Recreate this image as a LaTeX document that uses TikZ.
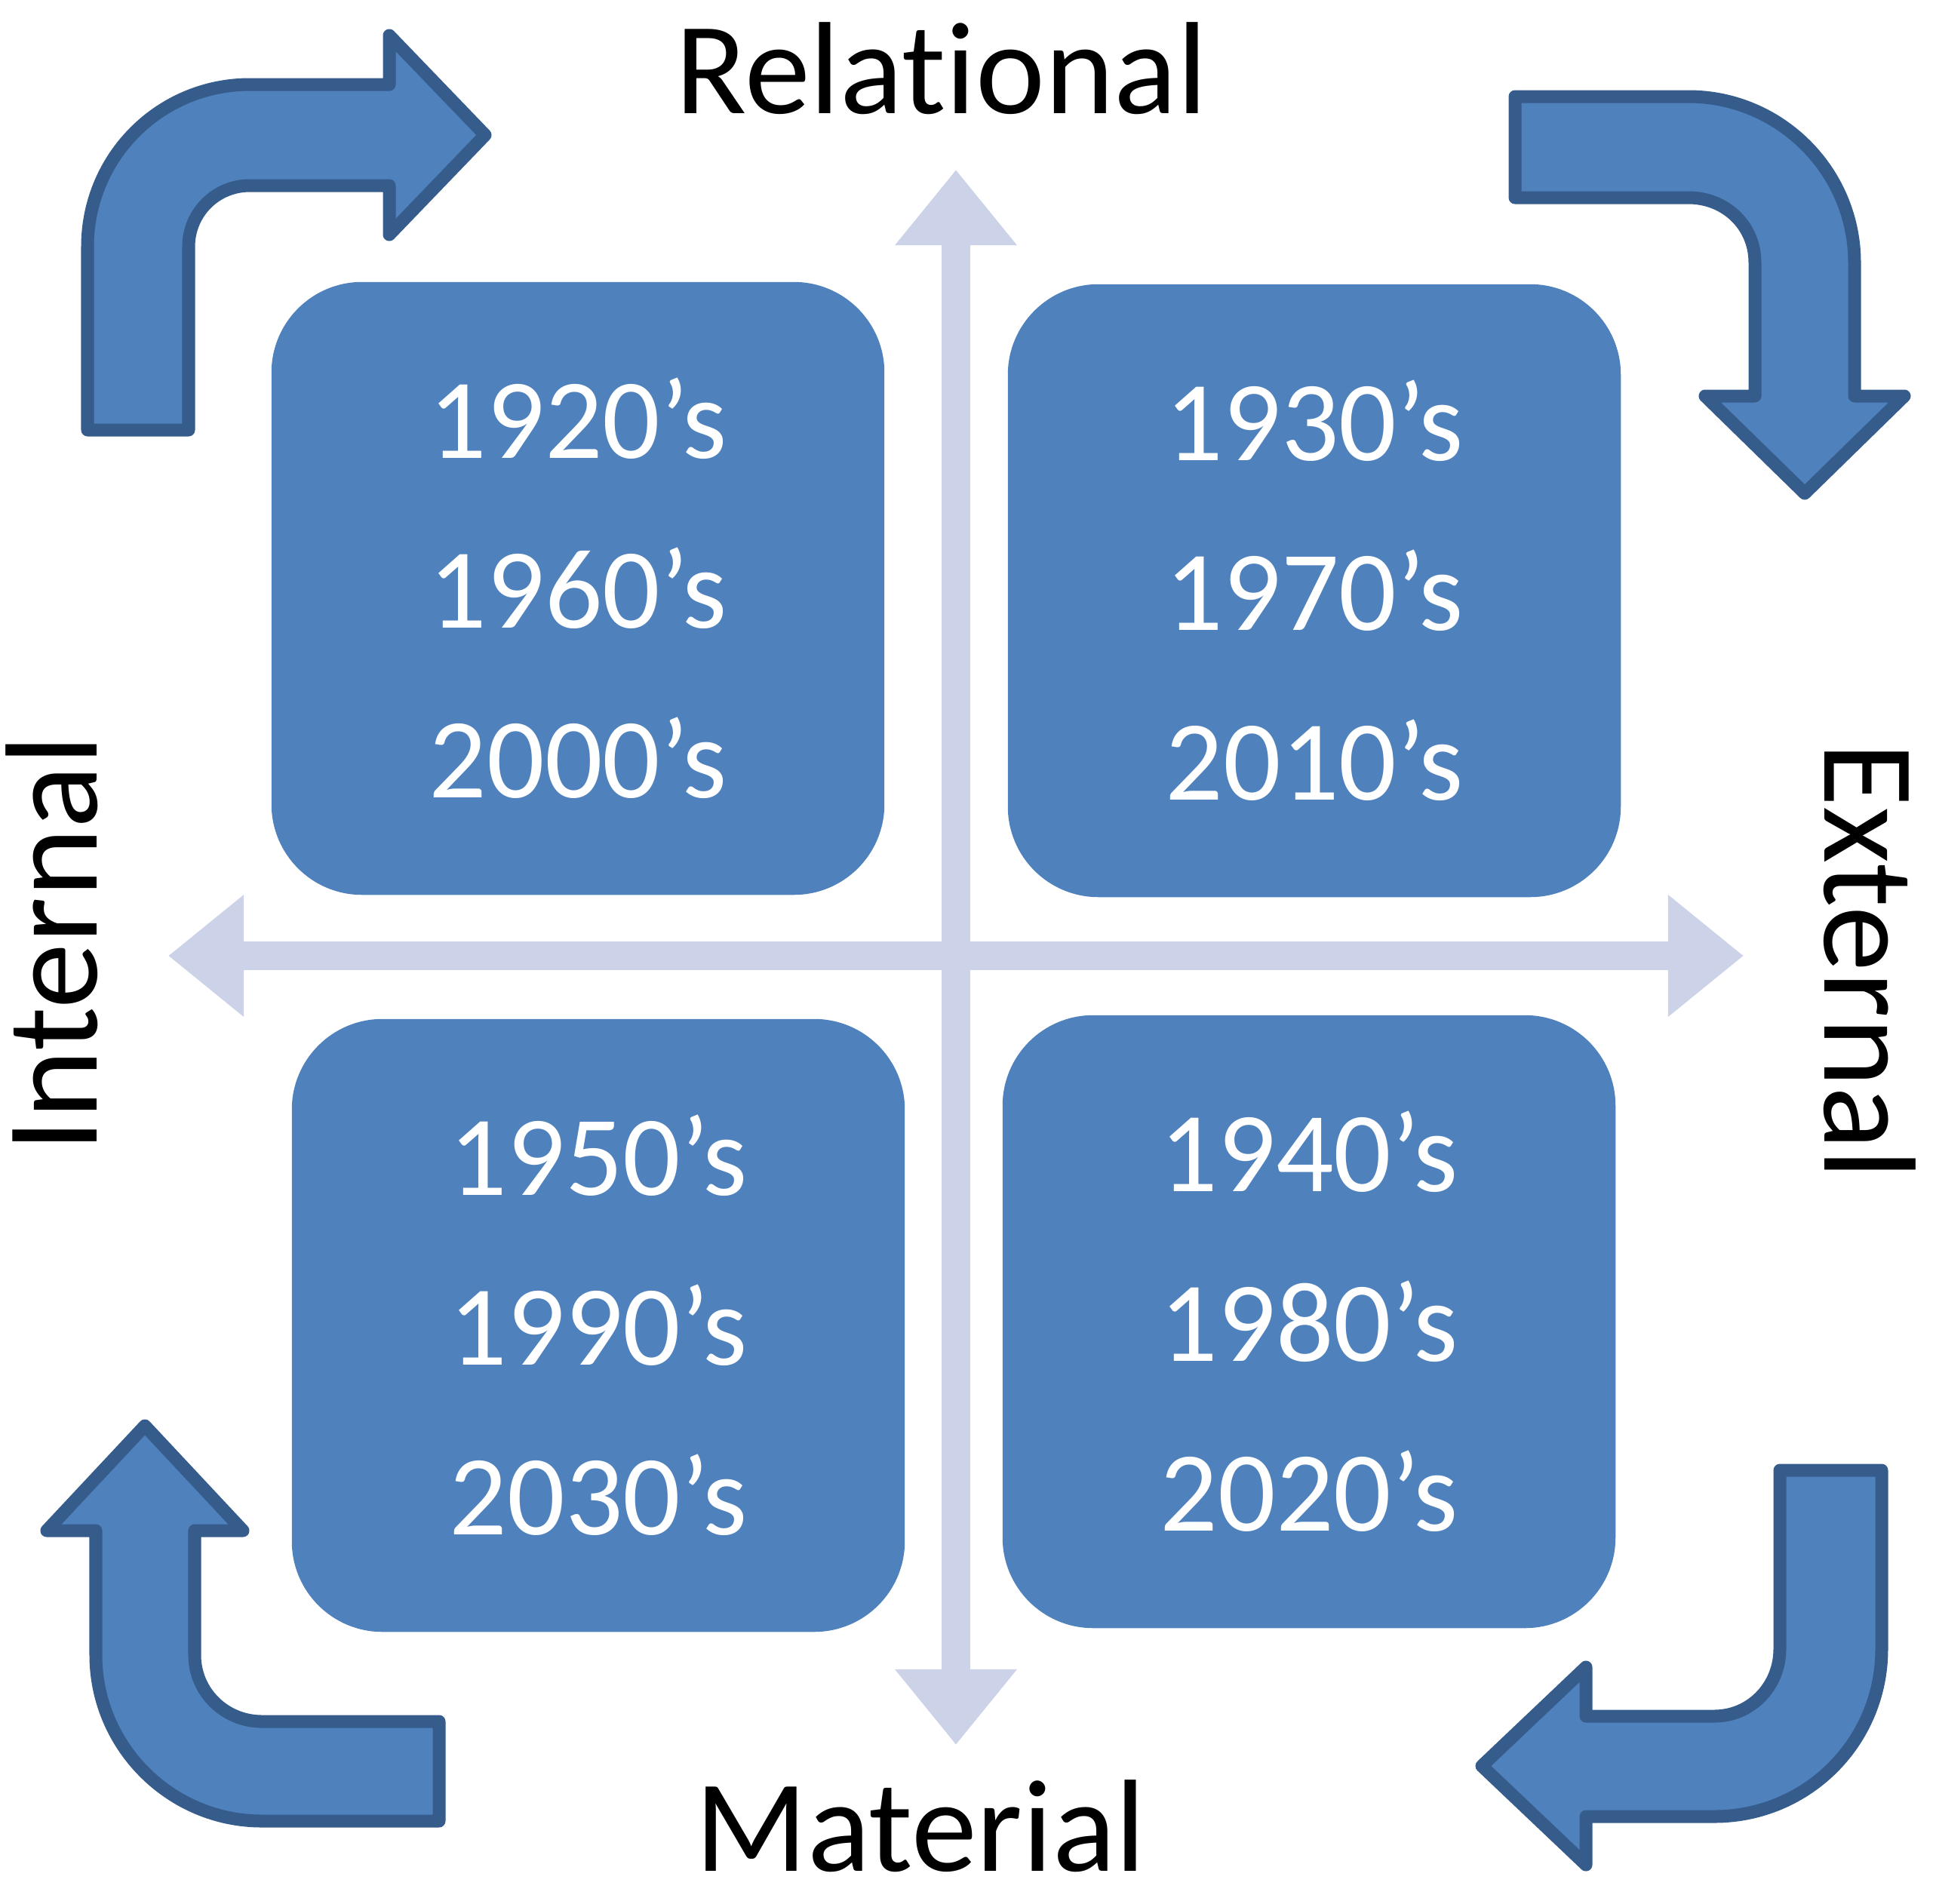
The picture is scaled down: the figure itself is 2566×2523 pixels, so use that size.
\documentclass[tikz,border=0pt]{standalone}
\usepackage{fontspec}
\setmainfont{Carlito}[Ligatures={TeX,NoCommon}]
\usepackage{tikz}
\usetikzlibrary{arrows.meta}
\definecolor{boxblue}{RGB}{79,129,189}
\definecolor{edgeblue}{RGB}{54,92,140}
\definecolor{axisgrey}{RGB}{204,211,232}
\tikzstyle{quadrant} = [rectangle,fill=boxblue,rounded corners=1.2cm,minimum width=8.12cm,
                        minimum height=8.12cm,text=white,align=center,
                        font=\fontsize{43}{64}\selectfont]
\tikzstyle{heading} = [anchor=base,font=\fontsize{49.5}{59}\selectfont]
\tikzstyle{axisline} = [axisgrey,line width=0.38cm,>={Triangle[length=1cm,width=1.55cm]},<->]
\tikzstyle{bentarrow} = [fill=boxblue,draw=edgeblue,line width=0.17cm,line join=round]

\begin{document}
\begin{tikzpicture}[x=0.01cm, y=-0.01cm]
    \useasboundingbox (0,0) rectangle (2566,2523);

    % the two axes
    \coordinate (relTip) at (1267,225);
    \coordinate (matTip) at (1267,2313);
    \coordinate (intTip) at (223,1267);
    \coordinate (extTip) at (2311,1267);
    \draw [axisline] (matTip) -- (relTip);
    \draw [axisline] (intTip) -- (extTip);

    % the four quadrants
    \node[quadrant] (q1) at (766,780) {1920's\\1960's\\2000's};
    \node[quadrant] (q2) at (1742,783) {1930's\\1970's\\2010's};
    \node[quadrant] (q3) at (1735,1752) {1940's\\1980's\\2020's};
    \node[quadrant] (q4) at (793,1757) {1950's\\1990's\\2030's};

    % axis labels
    \node[heading] (relational) at (1248,150) {Relational};
    \node[heading] (material) at (1220,2480) {Material};
    \node[heading,rotate=90] (internal) at (128,1251) {Internal};
    \node[heading,rotate=-90] (external) at (2418,1274) {External};

    % bent arrows going round clockwise
    \draw [bentarrow] (116,570) -- (116,327) .. controls (116,208) and (212,112) .. (331,112)
      -- (516,112) -- (516,47) -- (643,179) -- (516,311) -- (516,246) -- (331,246)
      .. controls (286,246) and (250,282) .. (250,327) -- (250,570) -- cycle;
    \draw [bentarrow] (2008,128) -- (2238,128) .. controls (2359,128) and (2458,227) .. (2458,348)
      -- (2458,525) -- (2524,525) -- (2392,654) -- (2260,525) -- (2326,525) -- (2326,348)
      .. controls (2326,299) and (2287,262) .. (2238,262) -- (2008,262) -- cycle;
    \draw [bentarrow] (2359,1949) -- (2494,1949) -- (2494,2186) .. controls (2494,2309) and (2395,2408) .. (2272,2408)
      -- (2102,2408) -- (2102,2472) -- (1964,2341) -- (2102,2210) -- (2102,2275) -- (2272,2275)
      .. controls (2321,2275) and (2359,2235) .. (2359,2186) -- cycle;
    \draw [bentarrow] (582,2414) -- (347,2414) .. controls (226,2414) and (127,2315) .. (127,2194)
      -- (127,2029) -- (62,2029) -- (192,1890) -- (322,2029) -- (258,2029) -- (258,2194)
      .. controls (258,2243) and (298,2282) .. (347,2282) -- (582,2282) -- cycle;
\end{tikzpicture}
\end{document}
